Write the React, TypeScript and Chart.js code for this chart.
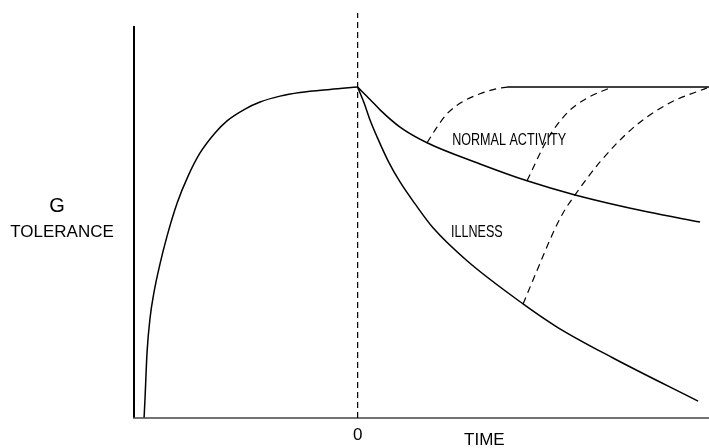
import React, { useEffect, useRef } from "react";
import { Chart, registerables } from "chart.js";

Chart.register(...registerables);

// Time axis (0 = onset) and G-tolerance values
const X_MIN = -3.9;
const X_MAX = 6.1;
const Y_MAX = 10.33;
const Y_AXIS_TOP = 10;

const adaptTime = [-3.708, -3.691, -3.656, -3.604, -3.535, -3.431, -3.309, -3.135, -2.944, -2.736, -2.476, -2.267, -1.955, -1.694, -1.347, -1.0, -0.479, 0];
const adaptTol = [0, 0.51, 1.68, 2.55, 3.21, 3.93, 4.64, 5.48, 6.17, 6.76, 7.27, 7.58, 7.88, 8.06, 8.21, 8.3, 8.38, 8.44];

const normalTime = [0, 0.215, 0.389, 0.736, 1.205, 2.125, 2.941, 3.774, 5.024, 5.944];
const normalTol = [8.44, 8.125, 7.86, 7.42, 7.02, 6.48, 6.05, 5.69, 5.26, 5.0];

const illnessTime = [0, 0.111, 0.215, 0.337, 0.528, 0.736, 0.997, 1.309, 1.899, 2.872, 3.462, 4.434, 5.91];
const illnessTol = [8.44, 8.04, 7.6, 7.17, 6.56, 6.02, 5.46, 4.85, 4.01, 2.91, 2.32, 1.53, 0.43];

const recov1Time = [1.205, 1.378, 1.552, 1.813, 2.125, 2.385, 2.594];
const recov1Tol = [7.02, 7.42, 7.76, 8.06, 8.27, 8.39, 8.44];

const recov2Time = [2.941, 3.288, 3.635, 3.983, 4.382];
const recov2Tol = [6.05, 7.09, 7.78, 8.16, 8.42];

const recov3Time = [2.872, 3.045, 3.219, 3.392, 3.566, 3.774, 4.208, 4.781, 5.424, 6.066];
const recov3Tol = [2.91, 3.52, 4.13, 4.72, 5.23, 5.69, 6.53, 7.4, 8.04, 8.42];

const plateauTime = [2.594, 6.1];
const plateauTol = [8.44, 8.44];

const zip = (xs: number[], ys: number[]) => xs.map((x, i) => ({ x, y: ys[i] }));

const labelsPlugin = {
  id: "figureLabels",
  afterDatasetsDraw(chart: any) {
    const { ctx, scales } = chart;
    const xs = scales.x;
    const ys = scales.y;
    ctx.save();
    // axes
    ctx.strokeStyle = "#000";
    ctx.lineWidth = 2;
    ctx.beginPath();
    ctx.moveTo(xs.getPixelForValue(X_MIN) + 1, ys.getPixelForValue(0));
    ctx.lineTo(xs.getPixelForValue(X_MIN) + 1, ys.getPixelForValue(Y_AXIS_TOP));
    ctx.stroke();
    ctx.strokeStyle = "#444";
    ctx.lineWidth = 1.5;
    ctx.beginPath();
    ctx.moveTo(xs.getPixelForValue(X_MIN), ys.getPixelForValue(0));
    ctx.lineTo(xs.getPixelForValue(X_MAX), ys.getPixelForValue(0));
    ctx.stroke();
    // onset line at t = 0
    ctx.strokeStyle = "#000";
    ctx.lineWidth = 1.2;
    ctx.setLineDash([6, 4]);
    ctx.beginPath();
    ctx.moveTo(xs.getPixelForValue(0), ys.getPixelForValue(0));
    ctx.lineTo(xs.getPixelForValue(0), ys.getPixelForValue(Y_MAX));
    ctx.stroke();
    ctx.setLineDash([]);

    ctx.fillStyle = "#000";
    ctx.textAlign = "center";
    ctx.textBaseline = "middle";
    ctx.font = "17px 'Liberation Sans', Arial, sans-serif";
    ctx.fillText("0", xs.getPixelForValue(0), 435);
    ctx.fillText("TIME", xs.getPixelForValue(2.2), 440);
    ctx.fillText("TOLERANCE", 62, 232);
    ctx.font = "20px 'Liberation Sans', Arial, sans-serif";
    ctx.fillText("G", 57, 206);

    const narrow = (text: string, tx: number, ty: number) => {
      ctx.save();
      ctx.translate(xs.getPixelForValue(tx), ys.getPixelForValue(ty));
      ctx.scale(0.74, 1);
      ctx.font = "17px 'Liberation Sans', Arial, sans-serif";
      ctx.fillText(text, 0, 0);
      ctx.restore();
    };
    narrow("NORMAL ACTIVITY", 2.63, 7.07);
    narrow("ILLNESS", 2.07, 4.74);
    ctx.restore();
  },
};

export default function App() {
  const ref = useRef<HTMLCanvasElement | null>(null);
  useEffect(() => {
    if (!ref.current) return;
    const solid = (xs: number[], ys: number[]) => ({
      data: zip(xs, ys),
      showLine: true,
      borderColor: "#000",
      borderWidth: 1.5,
      pointRadius: 0,
      cubicInterpolationMode: "monotone" as const,
    });
    const dashed = (xs: number[], ys: number[]) => ({
      ...solid(xs, ys),
      borderWidth: 1.2,
      borderDash: [7, 5],
    });
    const chart = new Chart(ref.current, {
      type: "scatter",
      data: {
        datasets: [
          solid(adaptTime, adaptTol),
          solid(normalTime, normalTol),
          solid(illnessTime, illnessTol),
          dashed(recov1Time, recov1Tol),
          dashed(recov2Time, recov2Tol),
          dashed(recov3Time, recov3Tol),
          solid(plateauTime, plateauTol),
        ],
      },
      options: {
        responsive: false,
        animation: false,
        layout: { padding: { left: 133, right: 0, top: 13, bottom: 30 } },
        plugins: { legend: { display: false }, tooltip: { enabled: false } },
        scales: {
          x: { type: "linear", min: X_MIN, max: X_MAX, display: false },
          y: { type: "linear", min: 0, max: Y_MAX, display: false },
        },
      },
      plugins: [labelsPlugin],
    });
    return () => chart.destroy();
  }, []);
  return (
    <div style={{ position: "fixed", left: 0, top: 0, width: 709, height: 448, background: "#fff" }}>
      <canvas ref={ref} width={709} height={448} style={{ display: "block" }} />
    </div>
  );
}
